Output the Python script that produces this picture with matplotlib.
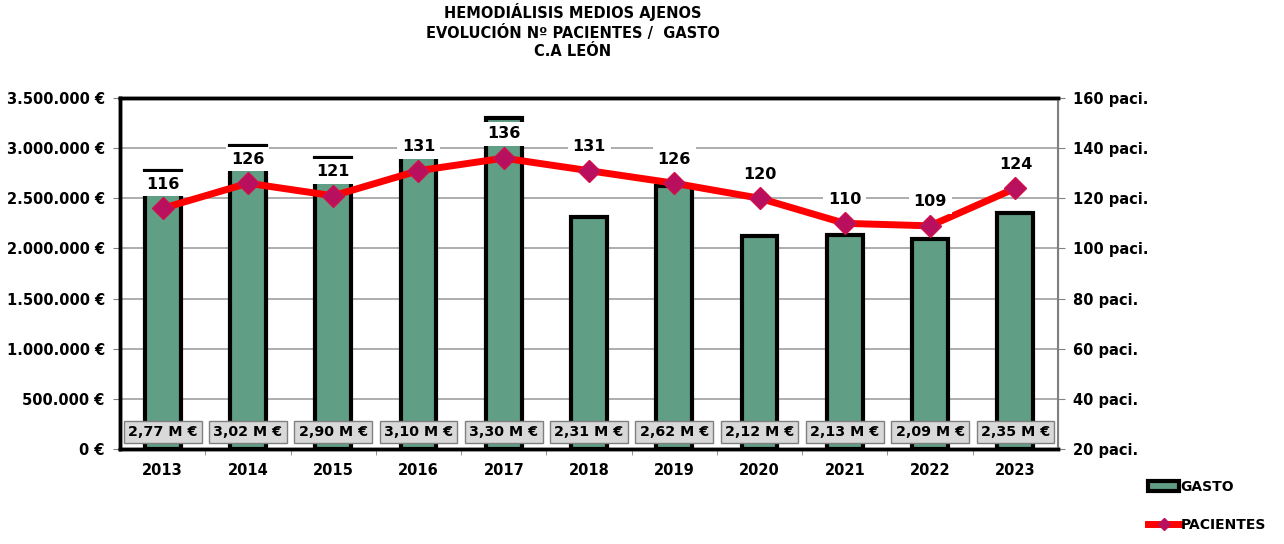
import matplotlib.pyplot as plt
from matplotlib.patches import Patch
from matplotlib.lines import Line2D
import matplotlib.transforms as mtransforms

years = ['2013', '2014', '2015', '2016', '2017', '2018', '2019', '2020', '2021', '2022', '2023']
gasto = [2.77e6, 3.02e6, 2.90e6, 3.10e6, 3.30e6, 2.31e6, 2.62e6, 2.12e6, 2.13e6, 2.09e6, 2.35e6]
gasto_labels = ['2,77 M €', '3,02 M €', '2,90 M €', '3,10 M €', '3,30 M €', '2,31 M €',
                '2,62 M €', '2,12 M €', '2,13 M €', '2,09 M €', '2,35 M €']
pacientes = [116, 126, 121, 131, 136, 131, 126, 120, 110, 109, 124]
left_ticks = [0, 500000, 1000000, 1500000, 2000000, 2500000, 3000000, 3500000]
right_ticks = [20, 40, 60, 80, 100, 120, 140, 160]

plt.rcParams['font.family'] = 'DejaVu Sans'
plt.rcParams['font.weight'] = 'bold'

fig = plt.figure(figsize=(12.84, 5.44), dpi=100)
ax = fig.add_axes([0.0935, 0.1746, 0.7305, 0.6453])
x = list(range(len(years)))

# bars
ax.bar(x, gasto, width=0.42, color='#619e86', edgecolor='black', linewidth=3, zorder=2)
ax.set_ylim(0, 3500000)
ax.set_xlim(-0.5, len(years) - 0.5)
ax.set_yticks(left_ticks)
ax.set_yticklabels(['{:,.0f} €'.format(v).replace(',', '.') for v in left_ticks],
                   fontsize=10.5, fontweight='bold')
ax.yaxis.grid(True, color='#a0a0a0', linewidth=1.2, zorder=0)
ax.set_axisbelow(True)
ax.set_xticks(x)
ax.set_xticklabels(years, fontsize=10.5, fontweight='bold')
ax.tick_params(axis='x', length=0, pad=10)
ax.set_xticks([i + 0.5 for i in x[:-1]], minor=True)
ax.tick_params(axis='x', which='minor', length=4, color='#808080')
ax.tick_params(axis='y', length=5, color='#808080', pad=6)

# cost labels in grey boxes
trans = mtransforms.blended_transform_factory(ax.transData, ax.transAxes)
for i, lab in enumerate(gasto_labels):
    ax.text(i, 0.048, lab, transform=trans, ha='center', va='center', fontsize=10.3,
            fontweight='bold', zorder=6,
            bbox=dict(boxstyle='square,pad=0.3', facecolor='#d9d9d9', edgecolor='#808080', linewidth=1))

for side in ['left', 'bottom', 'top']:
    ax.spines[side].set_linewidth(2.5)
    ax.spines[side].set_color('black')
ax.spines['right'].set_color('#808080')

# patients line
ax2 = ax.twinx()
ax2.plot(x, pacientes, color='#ff0000', linewidth=5, marker='D', markersize=11,
         markerfacecolor='#b8105e', markeredgecolor='#d0104a', zorder=4)
ax2.set_ylim(20, 160)
ax2.set_yticks(right_ticks)
ax2.set_yticklabels(['{} paci.'.format(v) for v in right_ticks], fontsize=10.5, fontweight='bold')
ax2.tick_params(axis='y', length=5, color='#808080', pad=6)
for side in ['left', 'bottom', 'top']:
    ax2.spines[side].set_linewidth(2.5)
    ax2.spines[side].set_color('black')
ax2.spines['right'].set_color('#808080')
ax2.spines['right'].set_linewidth(1.5)

for i, v in enumerate(pacientes):
    ax2.annotate(str(v), (i, v), xytext=(0, 12), textcoords='offset points', ha='center',
                 va='bottom', fontsize=11.5, fontweight='bold', zorder=5,
                 bbox=dict(boxstyle='square,pad=0.3', facecolor='white', edgecolor='none'))

fig.text(0.446, 0.995, 'HEMODIÁLISIS MEDIOS AJENOS\nEVOLUCIÓN Nº PACIENTES /  GASTO\nC.A LEÓN',
         ha='center', va='top', fontsize=10.5, fontweight='bold', linespacing=1.3)

handles = [Patch(facecolor='#619e86', edgecolor='black', linewidth=3),
           Line2D([0], [0], color='#ff0000', linewidth=5, marker='D', markersize=6,
                  markerfacecolor='#b8105e', markeredgecolor='#b8105e')]
fig.legend(handles, ['GASTO', 'PACIENTES'], loc='upper left', bbox_to_anchor=(0.89, 0.128),
           frameon=False, fontsize=10, handlelength=2.2, handletextpad=0.1, labelspacing=1.7,
           borderaxespad=0)

fig.savefig('out.png', dpi=100)
